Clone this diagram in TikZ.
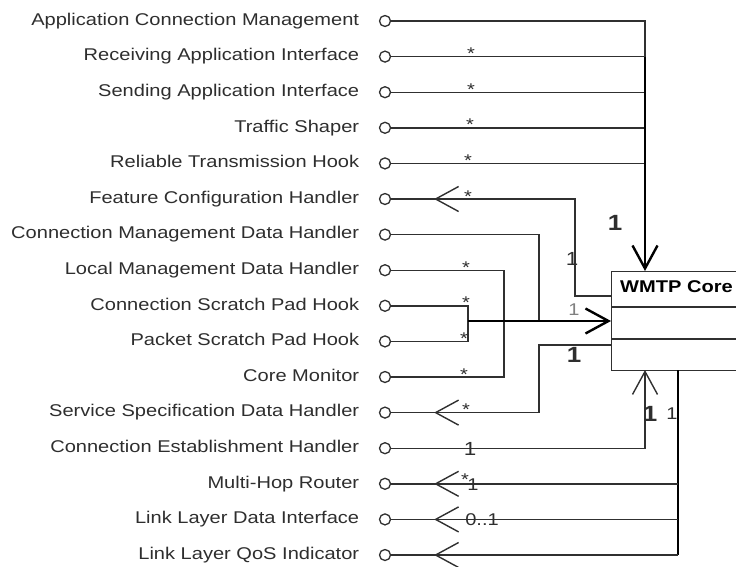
\documentclass[tikz,border=0pt]{standalone}
\usepackage{fontspec}
\setmainfont{Liberation Sans}[FakeStretch=1.18]
\usepackage{tikz}
\usetikzlibrary{
  arrows.meta,          % Straight Barb 开口箭头
  positioning,          % 节点相对定位
  decorations.markings  % 在连线中段放箭头
}
\definecolor{linegray}{HTML}{303030}
\definecolor{textgray}{HTML}{2E2E2E}

\tikzset{
  navtip/.tip={Straight Barb[length=23pt,width=25pt]}, % 开口 V 形箭头
  port/.style={circle, draw=linegray, line width=1.3pt, minimum size=11pt, inner sep=0pt, fill=white}, % 接口小圆
  lbl/.style={font=\fontsize{17}{20}\selectfont, text=textgray, text height=12pt, text depth=3.5pt, inner sep=0pt}, % 接口名称
  mult/.style={font=\fontsize{17}{20}\selectfont, text=textgray, inner sep=0pt, anchor=base}, % 多重性标注
  bigone/.style={mult, font=\fontsize{22}{24}\selectfont\bfseries}, % 加粗的 1
  link/.style={draw=linegray, line width=1.4pt}, % 普通连线
  bus/.style={draw=black, line width=2.4pt}, % 粗干线
  navmark/.style={postaction={decorate, decoration={markings,
      mark=at position 43pt with {\arrowreversed{navtip}}}}} % 靠近小圆处的反向箭头
}

\begin{document}
\begin{tikzpicture}[x=1pt, y=-1pt, label distance=19.5pt] % 以像素为单位，y 轴向下

  \useasboundingbox (0,0) rectangle (736,566); % 固定画布大小
  \clip (0,0) rectangle (736,566); % 右侧框体超出画布部分裁掉

  % ======= 左侧接口 =======
  \node[port, label={[lbl, name=t1]left:Application Connection Management}] (p1) at (385,21) {};
  \node[port, label={[lbl, name=t2]left:Receiving Application Interface}] (p2) at (385,56.6) {};
  \node[port, label={[lbl, name=t3]left:Sending Application Interface}] (p3) at (385,92.2) {};
  \node[port, label={[lbl, name=t4]left:Traffic Shaper}] (p4) at (385,127.8) {};
  \node[port, label={[lbl, name=t5]left:Reliable Transmission Hook}] (p5) at (385,163.4) {};
  \node[port, label={[lbl, name=t6]left:Feature Configuration Handler}] (p6) at (385,199) {};
  \node[port, label={[lbl, name=t7]left:Connection Management Data Handler}] (p7) at (385,234.6) {};
  \node[port, label={[lbl, name=t8]left:Local Management Data Handler}] (p8) at (385,270.2) {};
  \node[port, label={[lbl, name=t9]left:Connection Scratch Pad Hook}] (p9) at (385,305.8) {};
  \node[port, label={[lbl, name=t10]left:Packet Scratch Pad Hook}] (p10) at (385,341.4) {};
  \node[port, label={[lbl, name=t11]left:Core Monitor}] (p11) at (385,377) {};
  \node[port, label={[lbl, name=t12]left:Service Specification Data Handler}] (p12) at (385,412.6) {};
  \node[port, label={[lbl, name=t13]left:Connection Establishment Handler}] (p13) at (385,448.2) {};
  \node[port, label={[lbl, name=t14]left:Multi-Hop Router}] (p14) at (385,483.8) {};
  \node[port, label={[lbl, name=t15]left:Link Layer Data Interface}] (p15) at (385,519.4) {};
  \node[port, label={[lbl, name=t16]left:Link Layer QoS Indicator}] (p16) at (385,555) {};

  % ======= WMTP Core 框 =======
  \node[draw=linegray, line width=1.4pt, minimum width=200pt, minimum height=99pt, inner sep=0pt, anchor=north west] (core) at (611,271) {}; % 右侧超出画布
  \node[lbl, font=\fontsize{17}{20}\selectfont\bfseries, text=black, anchor=base west] (title) at (620,292) {WMTP Core};
  \coordinate (s1) at (611,307); % 第一条分隔线
  \coordinate (s2) at (611,339); % 第二条分隔线
  \draw[link, line width=1.7pt] (s1) -- ++(200,0);
  \draw[link, line width=1.7pt] (s2) -- ++(200,0);

  % ======= 连线的拐点与落点 =======
  \coordinate (j2) at (645,56.6);   % 上方干线
  \coordinate (j3) at (645,92.2);
  \coordinate (j4) at (645,127.8);
  \coordinate (j5) at (645,163.4);
  \coordinate (topin) at (645,271); % 框顶入口
  \coordinate (fb) at (575,296);    % Feature Configuration 拐点
  \coordinate (fin) at (611,296);
  \coordinate (j7) at (539,321);
  \coordinate (j8) at (504,321);
  \coordinate (j9) at (468,321);
  \coordinate (midin) at (611,321); % 框左入口
  \coordinate (sb) at (539,345);    % Service Specification 拐点
  \coordinate (sin) at (611,345);
  \coordinate (botin) at (645,370); % 框底入口
  \coordinate (botout) at (678,370); % 框底出口
  \coordinate (j14) at (678,483.8);
  \coordinate (j15) at (678,519.4);
  \coordinate (j16) at (678,555);

  % 上方五条汇入干线
  \draw[link] (p1.east) -| (j2);
  \draw[link] (p2.east) -- (j2);
  \draw[link] (p3.east) -- (j3);
  \draw[link] (p4.east) -- (j4);
  \draw[link] (p5.east) -- (j5);
  \draw[bus, -{navtip}] (j2) -- (topin);

  % 中部连线
  \draw[link, navmark] (p6.east) -| (fb) -- (fin);
  \draw[link] (p7.east) -| (j7);
  \draw[link] (p8.east) -| (j8) |- (p11.east);
  \draw[link] (p9.east) -| (j9) |- (p10.east);
  \draw[bus, -{navtip}] (j9) -- (midin);
  \draw[link, navmark] (p12.east) -| (sb) -- (sin);
  \draw[link, -{navtip}] (p13.east) -| (botin);

  % 下方干线
  \draw[bus] (botout) -- (j16);
  \draw[link, navmark] (p14.east) -- (j14);
  \draw[link, navmark] (p15.east) -- (j15);
  \draw[link, navmark] (p16.east) -- (j16);

  % ======= 多重性标注 =======
  \node[mult] (m2) at (471,59.6) {*};
  \node[mult] (m3) at (471,95.2) {*};
  \node[mult] (m4) at (470,130.8) {*};
  \node[mult] (m5) at (468,166.4) {*};
  \node[mult] (m6) at (468,202) {*};
  \node[mult] (m8) at (466,273.2) {*};
  \node[mult] (m9) at (466,308.8) {*};
  \node[mult] (m10) at (464,344.4) {*};
  \node[mult] (m11) at (464,380) {*};
  \node[mult] (m12) at (466,415.6) {*};
  \node[mult] (m14) at (465,485) {*};
  \node[mult, font=\fontsize{19}{20}\selectfont] (n13) at (470,455) {1};
  \node[mult] (n14) at (473,490) {1};
  \node[mult] (n15) at (482,525.4) {0..1};
  \node[bigone] (ntop) at (615,230) {1};
  \node[mult, font=\fontsize{19}{20}\selectfont] (nfb) at (572,265) {1};
  \node[mult, text=gray] (nmid) at (574,315) {1};
  \node[bigone] (nsb) at (574,362) {1};
  \node[bigone] (nbot) at (650,421) {1};
  \node[mult] (nout) at (672,419) {1};

\end{tikzpicture}
\end{document}
